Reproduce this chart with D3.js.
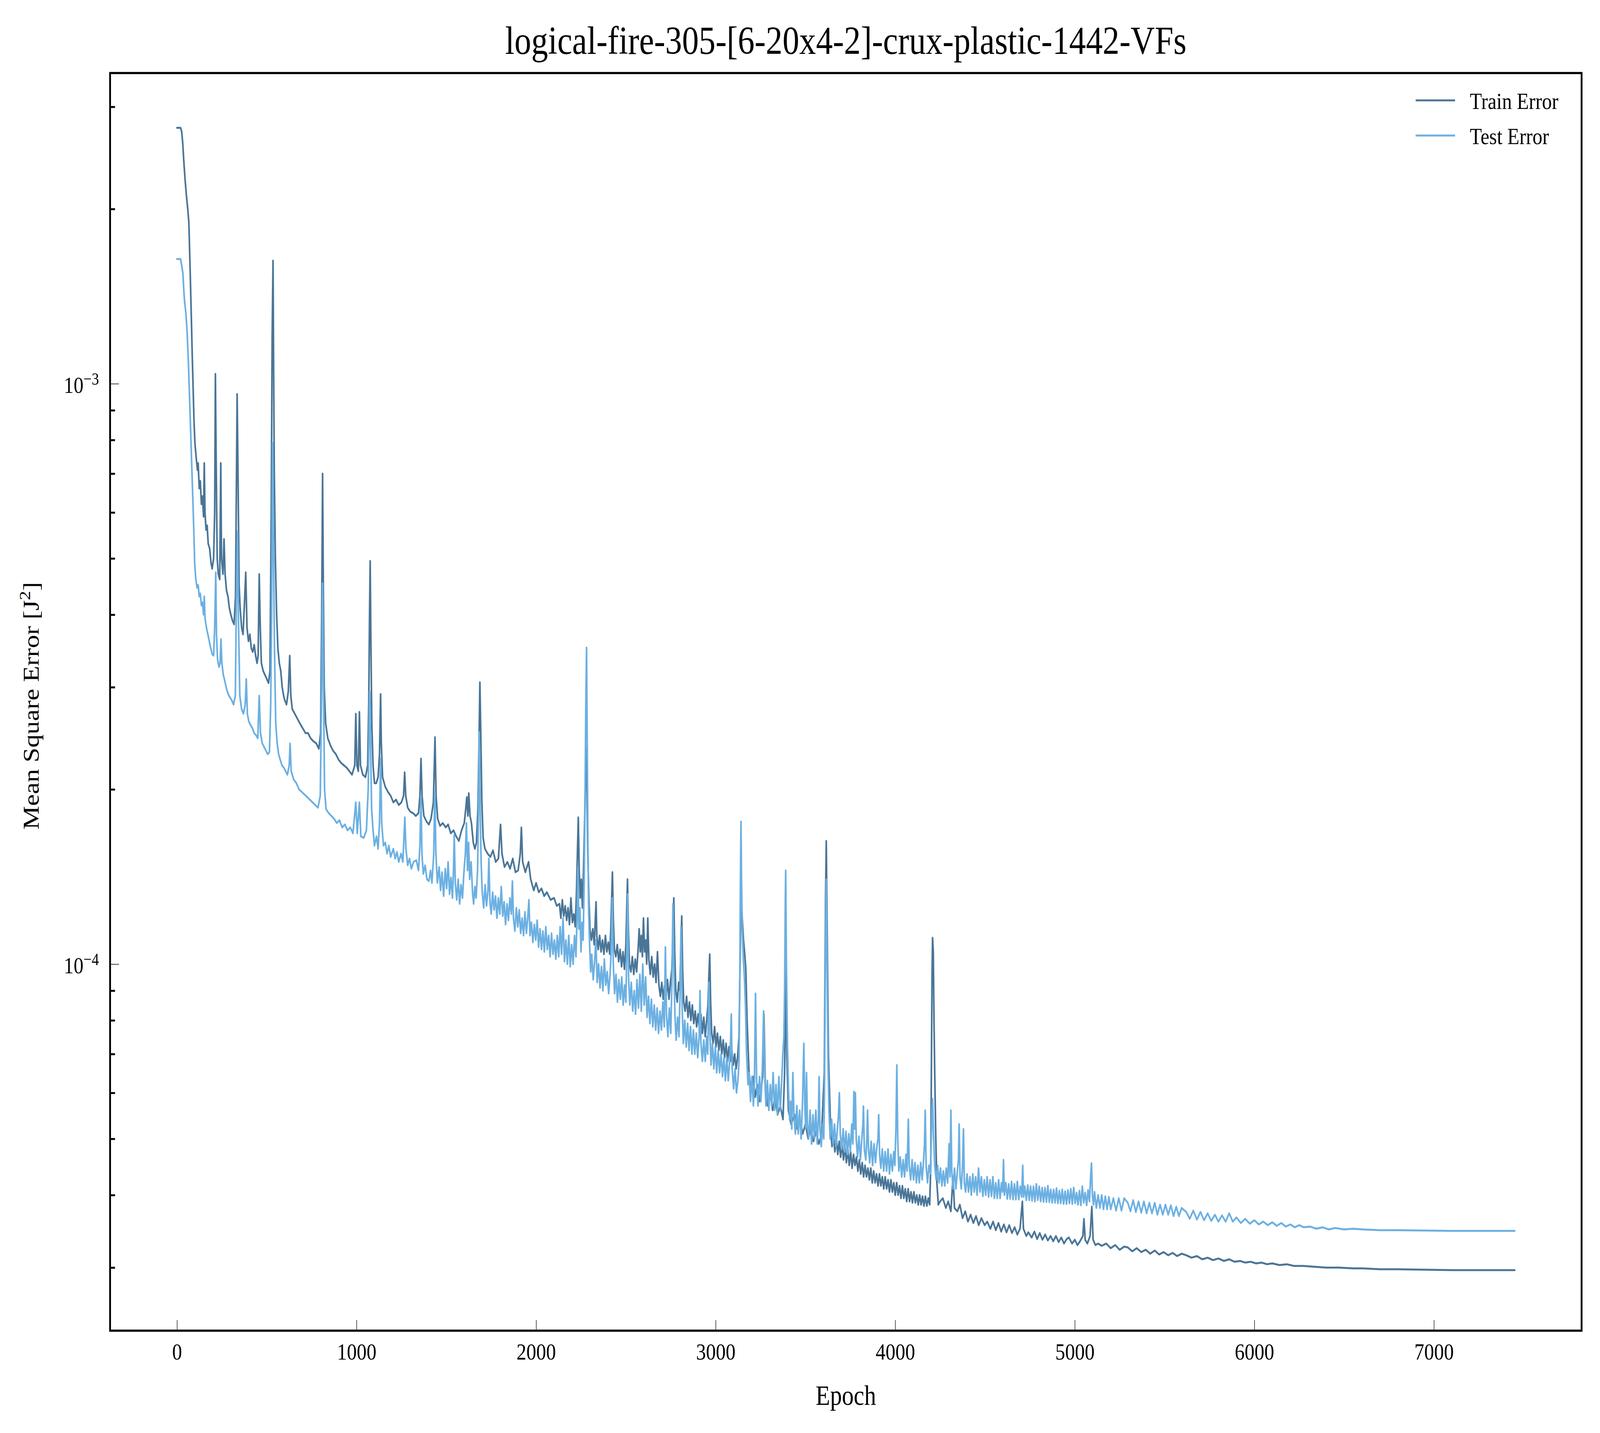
<!DOCTYPE html>
<html>
<head>
<meta charset="utf-8">
<script src="https://cdn.jsdelivr.net/npm/d3@7"></script>
<style>
  html, body { margin: 0; padding: 0; width: 100%; height: 100%; background: #fff; overflow: hidden; }
  svg { display: block; width: 100vw; height: 100vh; }
  text { font-family: "Liberation Serif", "DejaVu Serif", serif; fill: #000; }
</style>
</head>
<body>
<script>
var w = 4869;
var h = 3669;

var titleText = "logical-fire-305-[6-20x4-2]-crux-plastic-1442-VFs";
var xLabel = "Epoch";
var yLabel = "Mean Square Error [J";
var seriesNames = ["Train Error", "Test Error"];
var seriesColors = ["#4a7597", "#6cb0e2"];

var xTicks = [0, 1000, 2000, 3000, 4000, 5000, 6000, 7000];
var yMajorTicks = [1e-3, 1e-4];
var yMajorExp = ["\u22123", "\u22124"];
var yMinorTicks = [3e-5, 4e-5, 5e-5, 6e-5, 7e-5, 8e-5, 9e-5,
                   2e-4, 3e-4, 4e-4, 5e-4, 6e-4, 7e-4, 8e-4, 9e-4,
                   2e-3, 3e-3];

//train error [epoch, mse]
var trainError = [
  [0,2.76e-3],[20,2.76e-3],[26,2.72e-3],[32,2.6e-3],[38,2.42e-3],[45,2.25e-3],[52,2.12e-3],[60,2.0e-3],
  [66,1.9e-3],[70,1.72e-3],[75,1.5e-3],[80,1.3e-3],[85,1.12e-3],[90,9.8e-4],[95,8.6e-4],[100,7.9e-4],
  [108,7.4e-4],[114,7.1e-4],[118,7.3e-4],[124,6.6e-4],[130,6.8e-4],[136,6.2e-4],[142,6.4e-4],[148,5.9e-4],
  [152,7.3e-4],[156,6.0e-4],[162,5.6e-4],[168,5.7e-4],[174,5.3e-4],[182,5.2e-4],[190,4.9e-4],[196,4.8e-4],
  [204,5.0e-4],[210,6.0e-4],[214,1.04e-3],[218,7.5e-4],[224,5.0e-4],[230,4.7e-4],[238,4.6e-4],[244,7.3e-4],
  [248,5.0e-4],[256,4.7e-4],[262,5.4e-4],[268,4.7e-4],[276,4.4e-4],[284,4.3e-4],[292,4.1e-4],[300,4.0e-4],
  [310,3.9e-4],[318,3.85e-4],[326,4.3e-4],[335,9.6e-4],[340,7.0e-4],[346,4.5e-4],[352,4.1e-4],[360,3.8e-4],
  [368,3.7e-4],[376,4.2e-4],[383,4.73e-4],[390,3.8e-4],[398,3.6e-4],[406,3.7e-4],[414,3.5e-4],[422,3.45e-4],
  [430,3.55e-4],[438,3.4e-4],[446,3.3e-4],[452,3.4e-4],[458,4.7e-4],[464,3.8e-4],[470,3.3e-4],[480,3.2e-4],
  [490,3.15e-4],[500,3.1e-4],[510,3.05e-4],[518,3.2e-4],[525,6.0e-4],[530,1.2e-3],[535,1.63e-3],[538,1.1e-3],
  [542,7.0e-4],[548,5.0e-4],[555,4.0e-4],[562,3.5e-4],[570,3.3e-4],[578,3.2e-4],[586,3.0e-4],[594,2.9e-4],
  [600,2.85e-4],[610,2.8e-4],[620,2.95e-4],[628,3.4e-4],[634,2.9e-4],[642,2.75e-4],[656,2.7e-4],[670,2.65e-4],
  [684,2.6e-4],[700,2.55e-4],[716,2.5e-4],[730,2.5e-4],[744,2.45e-4],[760,2.42e-4],[776,2.4e-4],[790,2.35e-4],
  [800,2.5e-4],[806,4.0e-4],[811,7.0e-4],[815,4.5e-4],[820,3.0e-4],[828,2.6e-4],[840,2.45e-4],[855,2.38e-4],
  [870,2.33e-4],[885,2.3e-4],[900,2.25e-4],[915,2.22e-4],[930,2.2e-4],[945,2.18e-4],[960,2.15e-4],[975,2.12e-4],
  [990,2.2e-4],[996,2.7e-4],[1002,2.2e-4],[1010,2.15e-4],[1016,2.72e-4],[1022,2.2e-4],[1035,2.12e-4],[1050,2.1e-4],
  [1062,2.2e-4],[1068,2.8e-4],[1072,3.9e-4],[1076,4.95e-4],[1080,3.6e-4],[1085,2.6e-4],[1092,2.2e-4],[1100,2.05e-4],
  [1110,2.05e-4],[1120,2.1e-4],[1128,2.3e-4],[1134,2.92e-4],[1138,2.4e-4],[1145,2.1e-4],[1160,2.02e-4],[1175,1.98e-4],
  [1190,1.95e-4],[1205,1.9e-4],[1220,1.92e-4],[1235,1.88e-4],[1250,1.9e-4],[1262,1.95e-4],[1268,2.14e-4],[1274,1.95e-4],
  [1285,1.86e-4],[1300,1.83e-4],[1315,1.82e-4],[1330,1.8e-4],[1345,1.82e-4],[1353,1.95e-4],[1359,2.26e-4],[1365,1.95e-4],
  [1375,1.8e-4],[1390,1.76e-4],[1403,1.74e-4],[1415,1.78e-4],[1428,1.9e-4],[1437,2.46e-4],[1443,1.95e-4],[1452,1.78e-4],
  [1465,1.73e-4],[1480,1.75e-4],[1497,1.72e-4],[1510,1.74e-4],[1525,1.68e-4],[1540,1.7e-4],[1555,1.66e-4],[1570,1.63e-4],
  [1585,1.7e-4],[1600,1.75e-4],[1608,1.85e-4],[1614,1.94e-4],[1620,1.8e-4],[1625,1.97e-4],[1632,1.8e-4],[1640,1.75e-4],
  [1650,1.62e-4],[1659,1.58e-4],[1668,1.62e-4],[1676,1.85e-4],[1682,2.4e-4],[1687,3.06e-4],[1692,2.5e-4],[1698,1.9e-4],
  [1705,1.65e-4],[1715,1.58e-4],[1730,1.55e-4],[1745,1.53e-4],[1760,1.57e-4],[1775,1.5e-4],[1790,1.52e-4],[1802,1.74e-4],
  [1810,1.55e-4],[1824,1.47e-4],[1840,1.5e-4],[1855,1.46e-4],[1870,1.52e-4],[1885,1.44e-4],[1900,1.45e-4],[1912,1.55e-4],
  [1918,1.72e-4],[1925,1.5e-4],[1940,1.44e-4],[1958,1.5e-4],[1970,1.4e-4],[1987,1.34e-4],[2000,1.38e-4],[2015,1.33e-4],
  [2030,1.35e-4],[2045,1.31e-4],[2060,1.33e-4],[2081,1.29e-4],[2100,1.3e-4],[2115,1.26e-4],
  [2130,1.27e-4],[2138,1.2e-4],[2146,1.29e-4],[2154,1.21e-4],[2162,1.26e-4],[2170,1.19e-4],[2178,1.25e-4],[2186,1.17e-4],
  [2194,1.3e-4],[2202,1.18e-4],[2210,1.22e-4],[2218,1.16e-4],[2224,1.3e-4],[2230,1.55e-4],[2235,1.79e-4],[2240,1.45e-4],
  [2246,1.3e-4],[2252,1.4e-4],[2258,1.25e-4],[2264,1.45e-4],[2270,1.75e-4],[2275,2.1e-4],[2279,2.37e-4],[2283,2.0e-4],
  [2288,1.55e-4],[2294,1.3e-4],[2300,1.15e-4],[2308,1.1e-4],[2316,1.15e-4],[2324,1.08e-4],[2330,1.2e-4],[2334,1.28e-4],
  [2338,1.12e-4],[2346,1.06e-4],[2354,1.12e-4],[2362,1.05e-4],[2370,1.1e-4],[2378,1.04e-4],[2386,1.12e-4],[2394,1.05e-4],
  [2402,1.09e-4],[2410,1.04e-4],[2416,1.15e-4],[2421,1.3e-4],[2425,1.44e-4],[2430,1.2e-4],[2436,1.06e-4],[2444,1.03e-4],
  [2452,1.08e-4],[2460,1.01e-4],[2468,1.06e-4],[2476,9.9e-5],[2484,1.05e-4],[2492,9.8e-5],[2500,1.08e-4],[2505,1.25e-4],
  [2509,1.4e-4],[2514,1.15e-4],[2520,1.0e-4],[2528,9.7e-5],[2536,1.03e-4],[2544,9.6e-5],[2552,1.02e-4],[2560,9.7e-5],
  [2568,1.06e-4],[2574,1.15e-4],[2580,1.05e-4],[2586,1.12e-4],[2592,1.03e-4],[2598,1.2e-4],[2604,1.05e-4],[2610,1.1e-4],
  [2616,1.0e-4],[2622,1.2e-4],[2628,1.02e-4],[2636,9.6e-5],[2644,1.03e-4],[2652,9.5e-5],[2660,1.0e-4],[2668,9.3e-5],
  [2676,1.05e-4],[2684,9.2e-5],[2692,8.8e-5],[2700,9.3e-5],[2708,8.7e-5],[2716,9.2e-5],[2724,8.8e-5],[2732,9.4e-5],
  [2740,8.7e-5],[2748,9.3e-5],[2756,9.8e-5],[2762,1.12e-4],[2767,1.3e-4],[2772,1.05e-4],[2778,9.0e-5],[2786,8.6e-5],
  [2794,9.3e-5],[2800,9.0e-5],[2806,1.05e-4],[2811,1.21e-4],[2816,9.8e-5],[2822,8.6e-5],[2830,8.3e-5],[2838,8.8e-5],
  [2846,8.1e-5],[2854,8.6e-5],[2862,8.0e-5],[2870,8.5e-5],[2878,7.9e-5],[2886,8.3e-5],[2894,7.8e-5],[2902,8.2e-5],
  [2910,7.7e-5],[2918,8.2e-5],[2926,7.6e-5],[2934,8.1e-5],[2942,7.5e-5],[2950,8.0e-5],[2957,8.5e-5],[2962,9.5e-5],
  [2967,1.04e-4],[2972,8.6e-5],[2978,7.6e-5],[2986,7.3e-5],[2994,7.8e-5],[3002,7.2e-5],[3010,7.6e-5],[3018,7.1e-5],
  [3026,7.5e-5],[3034,7.0e-5],[3042,7.4e-5],[3050,6.9e-5],[3058,7.3e-5],[3066,6.8e-5],[3074,7.2e-5],[3082,6.8e-5],
  [3090,7.1e-5],[3098,6.7e-5],[3106,7.0e-5],[3114,6.6e-5],[3122,6.9e-5],[3130,7.5e-5],[3136,1.0e-4],[3141,1.31e-4],
  [3148,1.2e-4],[3155,1.1e-4],[3162,1.04e-4],
  [3168,9.8e-5],[3175,8.0e-5],[3185,6.6e-5],[3195,6.0e-5],[3209,6.4e-5],[3220,5.9e-5],[3232,6.2e-5],[3245,5.8e-5],
  [3262,6.4e-5],[3269,8.2e-5],[3276,6.2e-5],[3290,5.7e-5],[3305,6.0e-5],[3317,5.6e-5],[3330,5.9e-5],[3345,5.5e-5],
  [3360,5.7e-5],[3375,5.4e-5],[3384,6.5e-5],[3390,9.86e-5],[3396,7.0e-5],[3405,5.6e-5],[3420,5.3e-5],[3440,5.5e-5],
  [3455,5.2e-5],[3470,5.4e-5],[3485,5.1e-5],[3500,5.3e-5],[3515,5.0e-5],[3530,5.2e-5],[3545,4.95e-5],[3560,5.15e-5],
  [3575,4.9e-5],[3590,5.1e-5],[3605,6.5e-5],[3612,1.3e-4],[3616,1.63e-4],[3621,1.15e-4],[3628,7.0e-5],
  [3640,5.2e-5],[3648,4.85e-5],[3656,5.05e-5],[3664,4.75e-5],[3672,5.0e-5],[3680,4.7e-5],[3688,4.95e-5],[3696,4.65e-5],
  [3704,4.9e-5],[3712,4.6e-5],[3720,4.85e-5],[3728,4.55e-5],[3736,4.8e-5],[3744,4.5e-5],[3752,4.75e-5],[3760,4.45e-5],
  [3768,4.7e-5],[3776,4.5e-5],[3784,4.65e-5],[3792,4.4e-5],[3800,4.6e-5],[3808,4.35e-5],[3816,4.55e-5],[3824,4.3e-5],
  [3832,4.5e-5],[3840,4.3e-5],[3848,4.45e-5],[3856,4.25e-5],[3864,4.45e-5],[3872,4.2e-5],[3880,4.4e-5],[3888,4.2e-5],
  [3896,4.35e-5],[3904,4.15e-5],[3912,4.35e-5],[3920,4.15e-5],[3928,4.3e-5],[3936,4.1e-5],[3944,4.3e-5],[3952,4.1e-5],
  [3960,4.25e-5],[3968,4.05e-5],[3976,4.25e-5],[3984,4.05e-5],[3992,4.2e-5],[4000,4.0e-5],[4008,4.2e-5],[4016,4.0e-5],
  [4024,4.15e-5],[4032,3.95e-5],[4040,4.15e-5],[4048,3.95e-5],[4056,4.1e-5],[4064,3.9e-5],[4072,4.1e-5],[4080,3.9e-5],
  [4088,4.05e-5],[4096,3.88e-5],[4104,4.05e-5],[4112,3.88e-5],[4120,4.0e-5],[4128,3.85e-5],[4136,4.0e-5],[4144,3.85e-5],
  [4152,3.98e-5],[4160,3.83e-5],[4168,3.98e-5],[4176,3.83e-5],[4184,3.95e-5],[4192,3.85e-5],[4198,4.5e-5],[4202,7.0e-5],
  [4205,9.5e-5],[4208,1.11e-4],[4212,1.05e-4],[4216,8.0e-5],[4220,6.5e-5],[4226,5.0e-5],[4232,4.2e-5],[4240,3.85e-5],
  [4250,3.9e-5],[4265,3.95e-5],[4282,3.8e-5],[4295,3.9e-5],
  [4310,3.75e-5],[4322,4.3e-5],[4330,3.8e-5],[4346,3.75e-5],[4360,3.85e-5],[4375,3.65e-5],[4390,3.75e-5],[4405,3.6e-5],
  [4420,3.7e-5],[4435,3.58e-5],[4450,3.68e-5],[4465,3.55e-5],[4480,3.65e-5],[4498,3.55e-5],[4512,3.6e-5],[4530,3.5e-5],
  [4545,3.6e-5],[4560,3.48e-5],[4575,3.58e-5],[4590,3.46e-5],[4605,3.56e-5],[4620,3.45e-5],[4635,3.55e-5],[4650,3.44e-5],
  [4665,3.52e-5],[4680,3.42e-5],[4695,3.5e-5],[4708,3.9e-5],[4714,3.5e-5],[4730,3.4e-5],[4741,3.45e-5],[4760,3.38e-5],
  [4775,3.46e-5],[4790,3.36e-5],[4805,3.44e-5],[4820,3.35e-5],[4835,3.42e-5],[4850,3.34e-5],[4865,3.4e-5],[4880,3.33e-5],
  [4895,3.4e-5],[4910,3.32e-5],[4925,3.38e-5],[4940,3.3e-5],[4955,3.36e-5],[4967,3.38e-5],[4985,3.3e-5],[5000,3.35e-5],
  [5015,3.28e-5],[5029,3.33e-5],[5045,3.4e-5],[5051,3.64e-5],[5058,3.35e-5],[5070,3.3e-5],[5085,3.4e-5],[5095,3.82e-5],
  [5102,3.35e-5],[5115,3.28e-5],[5130,3.3e-5],[5150,3.27e-5],[5175,3.3e-5],[5200,3.24e-5],[5225,3.28e-5],[5250,3.22e-5],
  [5275,3.26e-5],[5295,3.25e-5],[5320,3.2e-5],[5345,3.24e-5],[5370,3.19e-5],[5395,3.22e-5],[5420,3.17e-5],[5445,3.21e-5],
  [5470,3.16e-5],[5495,3.19e-5],[5520,3.15e-5],[5545,3.18e-5],[5570,3.14e-5],[5595,3.17e-5],[5621,3.15e-5],[5650,3.12e-5],
  [5680,3.14e-5],[5710,3.1e-5],[5740,3.12e-5],[5770,3.09e-5],[5800,3.11e-5],[5830,3.08e-5],[5860,3.1e-5],[5890,3.07e-5],
  [5920,3.08e-5],[5949,3.06e-5],[5980,3.07e-5],[6010,3.05e-5],[6040,3.06e-5],[6070,3.04e-5],[6100,3.05e-5],[6140,3.03e-5],
  [6180,3.04e-5],[6220,3.02e-5],[6275,3.02e-5],[6330,3.01e-5],[6400,3.0e-5],[6470,3.0e-5],[6550,2.99e-5],[6603,2.99e-5],
  [6700,2.98e-5],[6800,2.98e-5],[6929,2.975e-5],[7100,2.97e-5],[7300,2.97e-5],[7450,2.97e-5]
];

//test error [epoch, mse]
var testError = [
  [0,1.64e-3],[20,1.64e-3],[26,1.6e-3],[33,1.55e-3],[38,1.45e-3],[42,1.39e-3],[50,1.32e-3],[57,1.22e-3],
  [64,1.08e-3],[70,9.5e-4],[75,8.5e-4],[80,7.6e-4],[85,6.8e-4],[90,6.1e-4],[95,5.4e-4],[99,4.87e-4],
  [105,4.6e-4],[112,4.45e-4],[118,4.5e-4],[124,4.3e-4],[130,4.35e-4],[136,4.15e-4],[142,4.2e-4],[148,4.0e-4],
  [152,4.3e-4],[156,3.95e-4],[164,3.8e-4],[172,3.7e-4],[180,3.6e-4],[188,3.5e-4],[196,3.42e-4],[204,3.4e-4],
  [210,3.8e-4],[216,4.73e-4],[220,3.7e-4],[226,3.35e-4],[234,3.25e-4],[240,3.3e-4],[245,3.63e-4],[250,3.3e-4],
  [258,3.15e-4],[267,3.07e-4],[276,2.98e-4],[285,2.92e-4],[295,2.88e-4],[305,2.85e-4],[315,2.8e-4],[325,2.9e-4],
  [330,4.0e-4],[337,5.57e-4],[342,4.0e-4],[350,2.9e-4],[360,2.75e-4],[370,2.7e-4],[380,2.8e-4],[386,3.1e-4],
  [392,2.7e-4],[400,2.62e-4],[410,2.58e-4],[420,2.55e-4],[430,2.5e-4],[440,2.48e-4],[450,2.45e-4],[458,2.9e-4],
  [465,2.5e-4],[475,2.4e-4],[490,2.35e-4],[505,2.3e-4],[515,2.32e-4],[522,2.8e-4],[527,4.0e-4],[533,7.9e-4],
  [538,5.0e-4],[543,3.5e-4],[550,2.6e-4],[558,2.4e-4],[566,2.3e-4],[575,2.25e-4],[585,2.2e-4],[595,2.18e-4],
  [605,2.15e-4],[615,2.12e-4],[625,2.2e-4],[630,2.4e-4],[636,2.15e-4],[650,2.08e-4],[665,2.05e-4],[680,2.0e-4],
  [695,1.98e-4],[710,1.96e-4],[725,1.94e-4],[740,1.92e-4],[755,1.9e-4],[770,1.88e-4],[785,1.86e-4],[798,1.95e-4],
  [806,3.0e-4],[811,4.53e-4],[816,3.0e-4],[822,2.0e-4],[830,1.85e-4],[845,1.82e-4],[860,1.8e-4],[875,1.78e-4],
  [890,1.75e-4],[905,1.77e-4],[920,1.72e-4],[935,1.74e-4],[950,1.7e-4],[965,1.72e-4],[980,1.68e-4],[996,1.9e-4],
  [1004,1.68e-4],[1016,1.9e-4],[1024,1.66e-4],[1040,1.65e-4],[1055,1.7e-4],[1065,2.0e-4],[1073,2.95e-4],[1078,2.4e-4],
  [1084,1.85e-4],[1092,1.7e-4],[1100,1.6e-4],[1111,1.66e-4],[1120,1.58e-4],[1128,1.75e-4],[1134,2.26e-4],[1140,1.75e-4],
  [1150,1.6e-4],[1160,1.62e-4],[1170,1.55e-4],[1180,1.6e-4],[1190,1.53e-4],[1205,1.58e-4],[1215,1.52e-4],[1225,1.56e-4],
  [1235,1.5e-4],[1248,1.55e-4],[1258,1.5e-4],[1264,1.65e-4],[1269,1.79e-4],[1275,1.58e-4],[1285,1.48e-4],[1295,1.52e-4],
  [1305,1.46e-4],[1318,1.5e-4],[1333,1.51e-4],[1345,1.45e-4],[1353,1.6e-4],[1359,1.95e-4],[1364,1.55e-4],[1372,1.43e-4],
  [1382,1.48e-4],[1392,1.4e-4],[1403,1.39e-4],[1412,1.45e-4],[1420,1.38e-4],[1430,1.55e-4],[1436,1.99e-4],
  [1442,1.55e-4],[1450,1.38e-4],[1460,1.47e-4],[1468,1.34e-4],[1476,1.44e-4],[1485,1.31e-4],[1494,1.46e-4],[1502,1.35e-4],
  [1510,1.5e-4],[1518,1.32e-4],[1526,1.41e-4],[1534,1.3e-4],[1540,1.45e-4],[1544,1.67e-4],[1550,1.38e-4],[1558,1.29e-4],
  [1566,1.4e-4],[1574,1.27e-4],[1582,1.37e-4],[1590,1.3e-4],[1598,1.44e-4],[1606,1.55e-4],[1612,1.75e-4],[1618,1.45e-4],
  [1624,1.62e-4],[1630,1.4e-4],[1638,1.5e-4],[1646,1.33e-4],[1652,1.27e-4],[1659,1.36e-4],[1666,1.3e-4],[1674,1.45e-4],
  [1679,1.8e-4],[1683,2.51e-4],[1688,1.9e-4],[1694,1.5e-4],[1700,1.33e-4],[1708,1.25e-4],[1716,1.37e-4],[1724,1.26e-4],
  [1732,1.34e-4],[1737,1.52e-4],[1743,1.28e-4],[1750,1.22e-4],[1758,1.33e-4],[1766,1.24e-4],[1774,1.31e-4],[1782,1.2e-4],
  [1790,1.3e-4],[1798,1.22e-4],[1806,1.36e-4],[1814,1.21e-4],[1822,1.28e-4],[1830,1.17e-4],[1838,1.27e-4],[1846,1.19e-4],
  [1854,1.3e-4],[1862,1.22e-4],[1868,1.39e-4],[1874,1.2e-4],[1882,1.14e-4],[1890,1.25e-4],[1898,1.16e-4],[1906,1.24e-4],
  [1914,1.13e-4],[1922,1.2e-4],[1930,1.12e-4],[1938,1.23e-4],[1946,1.13e-4],[1954,1.21e-4],[1960,1.29e-4],[1966,1.12e-4],
  [1974,1.18e-4],[1982,1.09e-4],[1990,1.17e-4],[1998,1.1e-4],[2006,1.19e-4],[2014,1.07e-4],[2022,1.15e-4],[2030,1.06e-4],
  [2038,1.14e-4],[2046,1.05e-4],[2054,1.16e-4],[2062,1.06e-4],[2070,1.12e-4],[2078,1.03e-4],[2086,1.13e-4],[2094,1.04e-4],
  [2102,1.1e-4],[2110,1.02e-4],[2118,1.12e-4],[2126,1.03e-4],[2134,1.16e-4],[2142,1.04e-4],[2150,1.2e-4],[2158,1.01e-4],
  [2166,1.1e-4],[2174,1.0e-4],[2182,1.12e-4],[2190,9.9e-5],[2198,1.08e-4],[2206,1.0e-4],[2214,1.12e-4],[2222,1.03e-4],
  [2228,1.2e-4],[2233,1.47e-4],[2238,1.15e-4],[2244,1.25e-4],[2250,1.05e-4],[2256,1.18e-4],[2262,1.1e-4],[2268,1.4e-4],
  [2273,2.0e-4],[2277,2.8e-4],[2281,3.51e-4],[2284,2.6e-4],[2288,1.7e-4],[2293,1.22e-4],[2298,1.08e-4],[2304,9.7e-5],
  [2310,1.04e-4],[2318,9.4e-5],[2326,1.01e-4],[2333,1.1e-4],[2340,9.3e-5],[2348,1.0e-4],[2356,9.1e-5],[2364,9.9e-5],
  [2372,9.0e-5],[2380,1.02e-4],[2388,9.2e-5],[2396,9.7e-5],[2404,8.9e-5],[2412,9.6e-5],[2418,1.05e-4],[2424,1.3e-4],
  [2430,1.0e-4],[2437,8.9e-5],[2445,9.6e-5],[2453,8.6e-5],[2461,9.4e-5],[2469,8.7e-5],[2477,9.5e-5],[2485,8.5e-5],
  [2493,9.2e-5],[2500,8.6e-5],[2505,1.05e-4],[2510,1.32e-4],[2515,9.5e-5],[2522,8.5e-5],[2530,9.3e-5],[2538,8.3e-5],
  [2546,9.0e-5],[2554,8.2e-5],[2562,9.4e-5],[2570,8.4e-5],[2578,9.6e-5],[2586,8.3e-5],[2594,1.0e-4],[2602,8.5e-5],
  [2610,9.5e-5],[2618,8.1e-5],[2626,8.8e-5],[2634,7.9e-5],[2642,8.7e-5],[2650,7.8e-5],[2658,8.5e-5],[2666,7.7e-5],
  [2674,8.4e-5],[2682,7.6e-5],[2690,8.3e-5],[2698,7.7e-5],[2706,8.6e-5],[2714,7.8e-5],[2720,1.07e-4],[2726,8.2e-5],
  [2734,7.5e-5],[2742,8.4e-5],[2750,7.6e-5],[2757,9.5e-5],[2762,1.27e-4],[2767,1.0e-4],[2773,8.2e-5],[2780,7.4e-5],
  [2788,8.1e-5],[2796,7.5e-5],[2802,9.0e-5],[2807,1.16e-4],[2813,8.5e-5],[2820,7.3e-5],[2828,8.0e-5],[2836,7.2e-5],
  [2844,7.9e-5],[2852,7.1e-5],[2860,7.8e-5],[2868,7.0e-5],[2876,7.7e-5],[2884,7.0e-5],[2892,7.6e-5],[2900,6.9e-5],
  [2908,7.5e-5],[2913,9.0e-5],[2918,7.3e-5],[2926,6.8e-5],[2934,7.4e-5],[2942,6.8e-5],[2950,7.5e-5],[2956,7.0e-5],
  [2962,9.3e-5],[2967,7.8e-5],[2974,6.7e-5],[2982,7.3e-5],[2990,6.6e-5],[2998,7.2e-5],[3006,6.5e-5],[3014,7.1e-5],
  [3022,6.5e-5],[3030,7.0e-5],[3038,6.4e-5],[3046,6.9e-5],[3054,6.3e-5],[3062,6.9e-5],[3070,6.3e-5],[3078,6.8e-5],
  [3084,7.5e-5],[3087,8.2e-5],[3092,6.6e-5],[3100,6.1e-5],[3108,6.6e-5],[3116,6.0e-5],[3124,6.3e-5],[3130,6.8e-5],
  [3134,9.0e-5],[3138,1.4e-4],[3141,1.76e-4],[3144,1.4e-4],[3148,1.15e-4],[3154,1.02e-4],[3160,9.5e-5],[3166,8.5e-5],
  [3172,7.0e-5],[3180,6.2e-5],[3186,6.5e-5],[3194,5.8e-5],[3202,6.4e-5],[3210,5.7e-5],[3216,6.3e-5],[3222,8.9e-5],
  [3228,6.3e-5],[3236,5.7e-5],[3244,6.4e-5],[3252,5.8e-5],[3260,6.6e-5],[3267,8.3e-5],[3273,6.5e-5],[3280,5.7e-5],
  [3288,6.3e-5],[3296,5.6e-5],[3304,6.2e-5],[3312,5.7e-5],[3320,6.5e-5],[3328,5.6e-5],[3336,6.2e-5],[3344,5.5e-5],
  [3352,6.4e-5],[3360,5.6e-5],[3368,6.3e-5],[3374,7.0e-5],[3380,7.5e-5],[3384,9.0e-5],[3388,1.3e-4],[3390,1.45e-4],
  [3394,1.0e-4],[3400,7.2e-5],[3406,6.0e-5],[3412,5.4e-5],[3418,5.8e-5],[3424,5.2e-5],[3430,6.5e-5],[3436,5.5e-5],
  [3444,5.1e-5],[3452,5.7e-5],[3460,5.1e-5],[3468,5.6e-5],[3476,5.0e-5],[3484,5.8e-5],[3491,7.3e-5],[3497,5.6e-5],
  [3502,5.2e-5],[3506,6.5e-5],[3511,5.3e-5],[3518,5.0e-5],[3526,5.6e-5],[3534,4.9e-5],[3542,5.5e-5],[3550,5.0e-5],
  [3558,5.6e-5],[3566,4.9e-5],[3572,5.4e-5],[3576,6.4e-5],[3581,5.2e-5],[3588,4.85e-5],[3596,5.3e-5],[3602,5.0e-5],
  [3606,6.0e-5],[3610,9.0e-5],[3613,1.2e-4],[3616,1.4e-4],[3620,1.05e-4],[3625,7.0e-5],[3631,5.6e-5],[3638,5.0e-5],
  [3646,5.4e-5],[3654,4.9e-5],[3662,5.3e-5],[3670,4.85e-5],[3678,5.2e-5],[3684,5.5e-5],[3689,6.0e-5],[3694,5.1e-5],
  [3702,4.8e-5],[3710,5.2e-5],[3718,4.75e-5],[3726,5.15e-5],[3734,4.7e-5],[3742,5.1e-5],[3750,4.75e-5],[3758,5.3e-5],
  [3764,4.9e-5],[3770,6.03e-5],[3774,5.2e-5],[3778,6.0e-5],[3783,5.0e-5],[3790,4.65e-5],[3798,5.05e-5],[3806,4.6e-5],
  [3814,5.0e-5],[3820,5.3e-5],[3823,5.69e-5],[3828,4.8e-5],[3836,4.6e-5],[3842,5.0e-5],[3846,5.6e-5],[3851,4.8e-5],
  [3858,4.55e-5],[3866,4.95e-5],[3874,4.5e-5],[3882,4.9e-5],[3890,4.55e-5],[3898,4.85e-5],[3904,5.0e-5],[3908,5.5e-5],
  [3913,4.7e-5],[3920,4.45e-5],[3928,4.8e-5],[3936,4.4e-5],[3944,4.75e-5],[3952,4.4e-5],[3960,4.8e-5],[3968,4.35e-5],
  [3976,4.7e-5],[3984,4.4e-5],[3992,4.75e-5],[3998,4.5e-5],[4004,5.2e-5],[4009,6.7e-5],[4014,5.0e-5],[4020,4.4e-5],
  [4028,4.65e-5],[4036,4.3e-5],[4044,4.6e-5],[4052,4.3e-5],[4060,4.7e-5],[4066,4.4e-5],[4073,5.4e-5],[4078,4.5e-5],
  [4086,4.25e-5],[4094,4.6e-5],[4102,4.25e-5],[4110,4.55e-5],[4118,4.2e-5],[4126,4.5e-5],[4134,4.2e-5],[4142,4.55e-5],
  [4150,4.25e-5],[4158,4.6e-5],[4163,4.9e-5],[4167,5.6e-5],[4172,4.5e-5],[4180,4.2e-5],[4188,4.5e-5],[4196,4.35e-5],
  [4201,5.0e-5],[4205,5.6e-5],[4208,5.86e-5],[4213,5.1e-5],[4220,4.5e-5],[4228,4.25e-5],[4236,4.5e-5],[4244,4.2e-5],
  [4252,4.45e-5],[4260,4.15e-5],[4268,4.4e-5],[4276,4.15e-5],[4284,4.45e-5],[4292,4.2e-5],[4300,4.9e-5],[4305,4.3e-5],
  [4310,5.6e-5],[4315,4.4e-5],[4322,4.1e-5],[4330,4.45e-5],[4338,4.1e-5],[4346,4.4e-5],[4352,4.6e-5],[4356,5.3e-5],
  [4361,4.3e-5],[4368,4.1e-5],[4375,4.5e-5],[4380,5.2e-5],[4385,4.2e-5],[4392,4.05e-5],[4400,4.35e-5],[4408,4.05e-5],
  [4416,4.3e-5],[4424,4.0e-5],[4432,4.35e-5],[4440,4.05e-5],[4448,4.3e-5],[4456,4.0e-5],[4464,4.45e-5],[4472,4.05e-5],
  [4480,4.3e-5],[4488,3.98e-5],[4496,4.25e-5],[4504,4.0e-5],[4512,4.3e-5],[4520,3.97e-5],[4528,4.25e-5],[4536,3.98e-5],
  [4544,4.3e-5],[4552,3.95e-5],[4560,4.2e-5],[4568,3.95e-5],[4576,4.25e-5],[4584,3.95e-5],[4592,4.2e-5],[4598,4.05e-5],
  [4603,4.6e-5],[4608,4.0e-5],[4616,4.2e-5],[4624,3.94e-5],[4632,4.18e-5],[4640,3.94e-5],[4648,4.22e-5],[4656,3.93e-5],
  [4664,4.18e-5],[4672,3.93e-5],[4680,4.22e-5],[4688,3.93e-5],[4696,4.14e-5],[4704,3.97e-5],[4710,4.5e-5],[4715,3.97e-5],
  [4722,4.14e-5],[4730,3.92e-5],[4738,4.16e-5],[4746,3.92e-5],[4754,4.14e-5],[4762,3.91e-5],[4770,4.14e-5],[4778,3.9e-5],
  [4786,4.18e-5],[4794,3.92e-5],[4802,4.14e-5],[4810,3.9e-5],[4818,4.12e-5],[4826,3.89e-5],[4834,4.12e-5],[4842,3.89e-5],
  [4850,4.15e-5],[4858,3.89e-5],[4866,4.09e-5],[4874,3.88e-5],[4882,4.09e-5],[4890,3.88e-5],[4898,4.11e-5],[4906,3.87e-5],
  [4914,4.07e-5],[4922,3.87e-5],[4930,4.09e-5],[4938,3.86e-5],[4946,4.06e-5],[4954,3.86e-5],[4962,4.08e-5],[4970,3.87e-5],
  [4978,4.1e-5],[4986,3.86e-5],[4994,4.12e-5],[5002,3.87e-5],[5010,4.04e-5],[5018,3.85e-5],[5026,4.07e-5],[5034,3.84e-5],
  [5042,4.14e-5],[5050,3.88e-5],[5058,4.04e-5],[5066,3.84e-5],[5074,4.08e-5],[5082,3.9e-5],[5088,4.3e-5],[5093,4.54e-5],
  [5098,4.0e-5],[5104,3.85e-5],
  [5110,4.05e-5],[5120,3.8e-5],[5130,4.0e-5],[5140,3.8e-5],[5150,4.0e-5],[5160,3.78e-5],
  [5170,3.98e-5],[5180,3.78e-5],[5190,3.97e-5],[5200,3.78e-5],[5215,3.95e-5],[5230,3.76e-5],[5245,3.95e-5],[5260,3.76e-5],
  [5275,3.95e-5],[5295,3.88e-5],[5310,3.75e-5],[5325,3.92e-5],[5340,3.74e-5],[5355,3.9e-5],[5370,3.73e-5],[5385,3.9e-5],
  [5400,3.72e-5],[5415,3.88e-5],[5430,3.72e-5],[5445,3.88e-5],[5460,3.7e-5],[5475,3.85e-5],[5490,3.7e-5],[5505,3.85e-5],
  [5520,3.7e-5],[5535,3.84e-5],[5550,3.68e-5],[5565,3.82e-5],[5580,3.68e-5],[5595,3.8e-5],[5621,3.74e-5],[5640,3.64e-5],
  [5660,3.76e-5],[5680,3.63e-5],[5700,3.74e-5],[5720,3.62e-5],[5740,3.72e-5],[5760,3.61e-5],[5780,3.7e-5],[5800,3.6e-5],
  [5820,3.69e-5],[5840,3.6e-5],[5860,3.72e-5],[5880,3.6e-5],[5900,3.66e-5],[5925,3.58e-5],[5949,3.64e-5],[5975,3.57e-5],
  [6000,3.62e-5],[6025,3.56e-5],[6050,3.6e-5],[6075,3.55e-5],[6100,3.59e-5],[6125,3.54e-5],[6150,3.58e-5],[6175,3.53e-5],
  [6200,3.56e-5],[6225,3.52e-5],[6250,3.55e-5],[6275,3.52e-5],[6310,3.53e-5],[6345,3.5e-5],[6380,3.52e-5],[6415,3.49e-5],
  [6450,3.51e-5],[6500,3.49e-5],[6550,3.5e-5],[6603,3.49e-5],[6700,3.48e-5],[6800,3.48e-5],[6929,3.475e-5],[7100,3.47e-5],
  [7300,3.47e-5],[7450,3.47e-5]
];

//plot area
var plotL = 335, plotR = 4813, plotT = 187, plotB = 3407;

var x = d3.scaleLinear()
          .domain([-372.5, 7822.5])
          .range([plotL, plotR]);

var y = d3.scaleLog()
          .domain([Math.pow(10, -4.6316), Math.pow(10, -2.4647)])
          .range([plotB, plotT]);

//Create SVG element, scaled to whatever the window really is
var svg = d3.select("body")
            .append("svg")
            .attr("viewBox", "0 0 " + w + " " + h)
            .attr("preserveAspectRatio", "none");

svg.append("rect")
   .attr("width", w)
   .attr("height", h)
   .attr("fill", "#fff");

//lines
var line = d3.line()
             .x(function(d) { return x(d[0]); })
             .y(function(d) { return y(d[1]); });

[trainError, testError].forEach(function(data, i) {
  svg.append("path")
     .datum(data)
     .attr("d", line)
     .attr("fill", "none")
     .attr("stroke", seriesColors[i])
     .attr("stroke-width", 5)
     .attr("stroke-linejoin", "round")
     .attr("stroke-linecap", "round");
});

//x axis, ticks pointing in
var xAxis = svg.append("g")
               .attr("transform", "translate(0," + plotB + ")")
               .call(d3.axisBottom(x).tickValues(xTicks).tickSize(-27).tickFormat(d3.format("d")));
xAxis.select(".domain").remove();
xAxis.selectAll(".tick line").attr("stroke", "#000").attr("stroke-width", 1.5);
xAxis.selectAll(".tick text")
     .attr("y", 74)
     .attr("dy", null)
     .attr("font-size", null)
     .attr("font-family", null)
     .style("font-size", "60px");

//y axis major ticks
var yAxis = svg.append("g")
               .attr("transform", "translate(" + plotL + ",0)")
               .call(d3.axisLeft(y).tickValues(yMajorTicks).tickSize(-27).tickFormat(""));
yAxis.select(".domain").remove();
yAxis.selectAll(".tick line").attr("stroke", "#000").attr("stroke-width", 1.5);

//y axis minor ticks
var yMinor = svg.append("g")
                .attr("transform", "translate(" + plotL + ",0)")
                .call(d3.axisLeft(y).tickValues(yMinorTicks).tickSize(-15).tickFormat(""));
yMinor.select(".domain").remove();
yMinor.selectAll(".tick line").attr("stroke", "#000").attr("stroke-width", 5);

//power of ten labels
yMajorTicks.forEach(function(v, i) {
  var t = svg.append("text")
             .attr("x", plotL - 34)
             .attr("y", y(v) + 24)
             .attr("text-anchor", "end")
             .style("font-size", "60px");
  t.append("tspan").text("10");
  t.append("tspan")
   .attr("dy", -21)
   .style("font-size", "44px")
   .text(yMajorExp[i]);
});

//frame
svg.append("rect")
   .attr("x", plotL)
   .attr("y", plotT)
   .attr("width", plotR - plotL)
   .attr("height", plotB - plotT)
   .attr("fill", "none")
   .attr("stroke", "#000")
   .attr("stroke-width", 5.5);

//title and labels
svg.append("text")
   .attr("x", (plotL + plotR) / 2)
   .attr("y", 138)
   .attr("text-anchor", "middle")
   .style("font-size", "102px")
   .text(titleText);

svg.append("text")
   .attr("x", (plotL + plotR) / 2)
   .attr("y", 3597)
   .attr("text-anchor", "middle")
   .style("font-size", "72px")
   .text(xLabel);

var yl = svg.append("text")
            .attr("transform", "translate(118," + ((plotT + plotB) / 2 + 10) + ") rotate(-90)")
            .attr("text-anchor", "middle")
            .style("font-size", "68px");
yl.append("tspan").text(yLabel);
yl.append("tspan").attr("dy", -26).style("font-size", "48px").text("2");
yl.append("tspan").attr("dy", 26).text("]");

//legend
var legend = svg.append("g");
seriesNames.forEach(function(name, i) {
  var ly = 257 + i * 90;
  legend.append("line")
        .attr("x1", 4308)
        .attr("x2", 4428)
        .attr("y1", ly)
        .attr("y2", ly)
        .attr("stroke", seriesColors[i])
        .attr("stroke-width", 5);
  legend.append("text")
        .attr("x", 4473)
        .attr("y", ly + 22)
        .style("font-size", "60px")
        .text(name);
});
</script>
</body>
</html>
